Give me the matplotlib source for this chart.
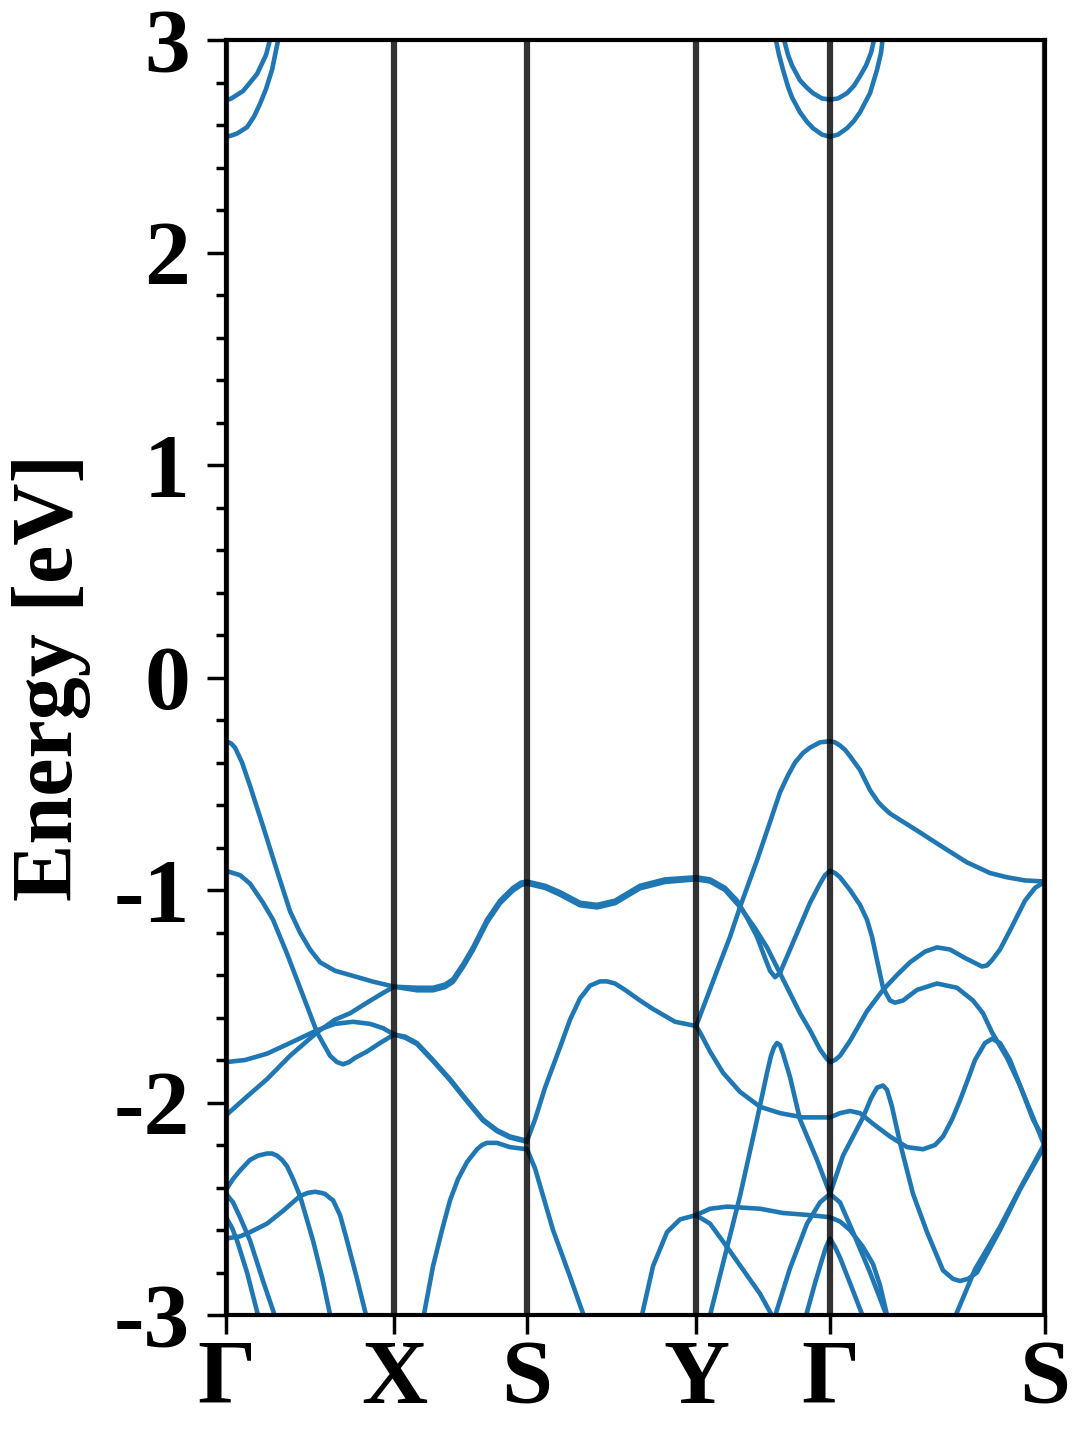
import matplotlib
matplotlib.use("Agg")
import matplotlib.pyplot as plt
from matplotlib.ticker import MultipleLocator

# --- high-symmetry path ---
KPOINT_POS = [0.00, 1.68, 3.01, 4.70, 6.04, 8.19]
KPOINT_LABELS = ["Γ", "X", "S", "Y", "Γ", "S"]

# --- bands: (k, E[eV]) ---
CB1 = [(0.00, 2.72), (0.04, 2.722), (0.07, 2.73), (0.12, 2.745), (0.17, 2.76), (0.24, 2.80),
       (0.31, 2.84), (0.36, 2.89), (0.40, 2.93), (0.45, 3.02)]
CB2 = [(0.00, 2.545), (0.05, 2.55), (0.11, 2.56), (0.16, 2.575), (0.21, 2.59), (0.28, 2.64),
       (0.34, 2.70), (0.40, 2.77), (0.46, 2.86), (0.53, 3.02)]
CB3 = [(5.57, 3.02), (5.62, 2.93), (5.66, 2.88), (5.74, 2.81), (5.81, 2.775), (5.87, 2.75),
       (5.96, 2.725), (6.04, 2.72), (6.12, 2.725), (6.21, 2.75), (6.28, 2.785), (6.34, 2.83),
       (6.40, 2.88), (6.45, 2.94), (6.49, 3.02)]
CB4 = [(5.49, 3.02), (5.53, 2.93), (5.57, 2.86), (5.62, 2.78), (5.66, 2.73), (5.74, 2.66),
       (5.81, 2.615), (5.87, 2.585), (5.96, 2.555), (6.04, 2.545), (6.12, 2.555), (6.21, 2.585),
       (6.28, 2.62), (6.34, 2.66), (6.44, 2.75), (6.51, 2.86), (6.55, 2.94), (6.57, 3.02)]

VB1 = [(0.00, -0.30), (0.05, -0.31), (0.09, -0.33), (0.16, -0.40), (0.24, -0.51), (0.37, -0.70),
       (0.51, -0.91), (0.64, -1.10), (0.74, -1.20), (0.84, -1.28), (0.94, -1.34), (1.09, -1.38),
       (1.24, -1.40), (1.46, -1.43), (1.68, -1.455),
       (1.91, -1.46), (2.07, -1.46), (2.19, -1.445), (2.27, -1.42), (2.37, -1.35), (2.47, -1.27),
       (2.61, -1.14), (2.74, -1.05), (2.87, -0.99), (2.95, -0.965), (3.01, -0.96),
       (3.19, -0.98), (3.34, -1.01), (3.54, -1.06), (3.71, -1.07), (3.89, -1.05), (4.14, -0.98),
       (4.39, -0.95), (4.70, -0.94),
       (4.84, -0.95), (4.99, -0.99), (5.11, -1.05), (5.21, -1.13), (5.31, -1.22), (5.39, -1.32),
       (5.44, -1.38), (5.49, -1.41), (5.54, -1.39), (5.64, -1.28), (5.74, -1.17), (5.84, -1.06),
       (5.94, -0.97), (5.99, -0.93), (6.04, -0.91),
       (6.09, -0.92), (6.14, -0.94), (6.24, -1.00), (6.34, -1.07), (6.41, -1.14), (6.46, -1.22),
       (6.51, -1.33), (6.57, -1.46), (6.64, -1.52), (6.69, -1.53), (6.77, -1.52), (6.91, -1.47),
       (7.11, -1.44), (7.31, -1.46), (7.47, -1.52), (7.57, -1.58), (7.66, -1.67), (7.81, -1.79),
       (7.94, -1.92), (8.07, -2.08), (8.19, -2.18)]

VB2 = [(0.00, -0.91), (0.07, -0.92), (0.14, -0.93), (0.24, -0.97), (0.37, -1.06), (0.47, -1.14),
       (0.61, -1.30), (0.74, -1.46), (0.91, -1.67), (1.04, -1.78), (1.11, -1.81), (1.17, -1.82),
       (1.23, -1.81), (1.29, -1.79), (1.41, -1.76), (1.54, -1.72), (1.68, -1.68),
       (1.79, -1.69), (1.91, -1.72), (2.07, -1.80), (2.24, -1.89), (2.41, -1.99), (2.57, -2.08),
       (2.71, -2.13), (2.84, -2.16), (3.01, -2.18),
       (3.09, -2.08), (3.19, -1.93), (3.34, -1.74), (3.44, -1.61), (3.54, -1.51), (3.64, -1.45),
       (3.74, -1.43), (3.81, -1.43), (3.89, -1.44), (3.99, -1.47), (4.14, -1.52), (4.27, -1.56),
       (4.49, -1.62), (4.70, -1.64),
       (4.74, -1.67), (4.84, -1.76), (4.97, -1.86), (5.14, -1.95), (5.34, -2.02), (5.54, -2.05),
       (5.77, -2.07), (6.04, -2.07),
       (6.14, -2.05), (6.24, -2.04), (6.34, -2.05), (6.47, -2.10), (6.64, -2.16), (6.81, -2.21),
       (6.97, -2.22), (7.09, -2.20), (7.17, -2.16), (7.26, -2.08), (7.34, -1.99), (7.42, -1.89),
       (7.49, -1.80), (7.59, -1.72), (7.66, -1.70), (7.74, -1.72), (7.84, -1.80), (7.94, -1.92),
       (8.07, -2.07), (8.19, -2.21)]

VB3 = [(0.00, -1.81), (0.19, -1.80), (0.41, -1.77), (0.64, -1.72), (0.91, -1.66), (1.09, -1.63),
       (1.27, -1.62), (1.44, -1.63), (1.57, -1.65), (1.68, -1.68),
       (1.79, -1.695), (1.91, -1.725), (2.07, -1.805), (2.24, -1.895), (2.41, -1.995),
       (2.57, -2.085), (2.71, -2.135), (2.84, -2.165), (3.01, -2.185)]

VB4 = [(0.00, -2.06), (0.19, -1.98), (0.41, -1.89), (0.64, -1.78), (0.91, -1.67), (1.09, -1.61),
       (1.24, -1.58), (1.41, -1.53), (1.55, -1.49), (1.68, -1.455),
       (1.91, -1.472), (2.07, -1.472), (2.19, -1.457), (2.27, -1.432), (2.37, -1.362),
       (2.47, -1.282), (2.61, -1.152), (2.74, -1.062), (2.87, -1.002), (2.95, -0.977),
       (3.01, -0.97),
       (3.19, -0.99), (3.34, -1.022), (3.54, -1.072), (3.71, -1.082), (3.89, -1.062),
       (4.14, -0.992), (4.39, -0.962), (4.70, -0.95),
       (4.84, -0.96), (4.99, -1.00), (5.14, -1.08), (5.29, -1.18), (5.41, -1.27), (5.57, -1.42),
       (5.74, -1.58), (5.84, -1.66), (5.94, -1.75), (6.00, -1.79), (6.04, -1.81),
       (6.09, -1.80), (6.14, -1.78), (6.24, -1.71), (6.41, -1.57), (6.57, -1.47), (6.71, -1.40),
       (6.84, -1.34), (6.99, -1.29), (7.11, -1.27), (7.24, -1.28), (7.39, -1.32), (7.56, -1.36),
       (7.61, -1.355), (7.66, -1.33), (7.74, -1.28), (7.84, -1.19), (7.99, -1.05), (8.09, -0.99),
       (8.19, -0.96)]

VB5 = [(4.70, -1.64), (4.79, -1.53), (4.91, -1.38), (5.04, -1.22), (5.14, -1.08), (5.31, -0.86),
       (5.44, -0.68), (5.54, -0.54), (5.62, -0.46), (5.69, -0.40), (5.77, -0.355), (5.84, -0.33),
       (5.94, -0.305), (6.04, -0.30), (6.09, -0.305), (6.14, -0.32), (6.19, -0.34), (6.24, -0.37),
       (6.34, -0.435), (6.44, -0.53), (6.52, -0.585), (6.57, -0.61), (6.64, -0.64), (6.74, -0.67),
       (6.91, -0.72), (7.14, -0.79), (7.41, -0.87), (7.64, -0.92), (7.81, -0.94), (7.99, -0.955),
       (8.19, -0.96)]

L1 = [(0.00, -2.41), (0.07, -2.36), (0.14, -2.32), (0.24, -2.27), (0.32, -2.25), (0.41, -2.24),
      (0.46, -2.24), (0.51, -2.25), (0.56, -2.27), (0.61, -2.30), (0.67, -2.36), (0.74, -2.44),
      (0.87, -2.65), (0.96, -2.82), (1.05, -3.02)]
L2 = [(0.00, -2.43), (0.07, -2.47), (0.14, -2.54), (0.24, -2.65), (0.37, -2.84), (0.50, -3.02)]
L3 = [(0.00, -2.54), (0.06, -2.59), (0.11, -2.65), (0.21, -2.80), (0.33, -3.02)]
L4 = [(0.00, -2.64), (0.14, -2.63), (0.24, -2.61), (0.41, -2.57), (0.57, -2.51), (0.74, -2.44),
      (0.82, -2.425), (0.89, -2.42), (0.95, -2.425), (0.99, -2.43), (1.04, -2.45), (1.07, -2.46),
      (1.14, -2.53), (1.21, -2.65), (1.31, -2.83), (1.41, -3.02)]
L5 = [(1.97, -3.02), (2.07, -2.77), (2.16, -2.60), (2.24, -2.46), (2.32, -2.36), (2.41, -2.28),
      (2.51, -2.22), (2.56, -2.20), (2.61, -2.19), (2.71, -2.19), (2.84, -2.21), (3.01, -2.22),
      (3.09, -2.31), (3.27, -2.60), (3.44, -2.82), (3.59, -3.02)]
L6 = [(4.15, -3.02), (4.27, -2.77), (4.41, -2.61), (4.54, -2.55), (4.70, -2.53), (4.84, -2.50),
      (5.01, -2.49), (5.34, -2.50), (5.57, -2.52), (5.84, -2.53), (6.04, -2.54), (6.14, -2.56),
      (6.24, -2.60), (6.37, -2.68), (6.47, -2.76), (6.54, -2.86), (6.62, -3.02)]
L7 = [(4.70, -2.53), (4.84, -2.57), (5.01, -2.68), (5.19, -2.80), (5.34, -2.90), (5.48, -3.02),
      (5.64, -2.78), (5.81, -2.57), (5.94, -2.47), (6.04, -2.43), (6.14, -2.47), (6.27, -2.61),
      (6.44, -2.80), (6.62, -3.02)]
L8 = [(4.83, -3.02), (4.99, -2.72), (5.14, -2.44), (5.31, -2.08), (5.41, -1.86), (5.45, -1.78),
      (5.48, -1.74), (5.51, -1.72), (5.54, -1.73), (5.57, -1.77), (5.64, -1.88), (5.74, -2.08),
      (5.91, -2.27), (6.04, -2.43), (6.17, -2.25), (6.37, -2.07), (6.45, -1.98), (6.51, -1.93),
      (6.57, -1.92), (6.61, -1.94), (6.66, -2.02), (6.74, -2.19), (6.87, -2.43), (7.01, -2.61),
      (7.17, -2.79), (7.27, -2.83), (7.34, -2.84), (7.42, -2.83), (7.51, -2.80), (7.74, -2.60),
      (7.94, -2.41), (8.19, -2.20)]
L9 = [(5.79, -3.02), (5.89, -2.85), (5.96, -2.74), (6.00, -2.68), (6.04, -2.64), (6.09, -2.68),
      (6.14, -2.73), (6.24, -2.85), (6.38, -3.02)]
L10 = [(7.28, -3.02), (7.37, -2.92), (7.49, -2.785), (7.74, -2.585), (7.94, -2.405), (8.19, -2.19)]

BANDS = [CB1, CB2, CB3, CB4, VB1, VB2, VB3, VB4, VB5,
         L1, L2, L3, L4, L5, L6, L7, L8, L9, L10]

FONT = ["Liberation Serif", "DejaVu Serif"]


def main():
    plt.rcParams['font.family'] = FONT
    plt.rcParams['font.weight'] = 'bold'
    plt.rcParams['axes.unicode_minus'] = False

    fig = plt.figure(figsize=(10.8, 14.4), dpi=100)
    ax = fig.add_axes([0.2093, 0.0868, 0.7583, 0.8854])

    for band in BANDS:
        k = [p[0] for p in band]
        e = [p[1] for p in band]
        ax.plot(k, e, color='#1f77b4', lw=3.3, solid_joinstyle='round',
                solid_capstyle='round')

    # high-symmetry verticals drawn on top of bands
    for kp in KPOINT_POS:
        ax.axvline(kp, color='black', alpha=0.8, lw=4.5, zorder=5)

    ax.set_xlim(KPOINT_POS[0], KPOINT_POS[-1])
    ax.set_ylim(-3, 3)
    ax.set_xticks(KPOINT_POS)
    ax.set_xticklabels(KPOINT_LABELS)
    ax.yaxis.set_major_locator(MultipleLocator(1))
    ax.yaxis.set_minor_locator(MultipleLocator(0.2))

    ax.tick_params(axis='both', which='major', direction='out', length=14, width=2.5,
                   labelsize=66)
    ax.tick_params(axis='y', which='minor', direction='out', length=7, width=2.5)
    ax.tick_params(axis='y', which='major', pad=12)
    ax.tick_params(axis='x', which='major', pad=4)
    for lab in ax.get_xticklabels() + ax.get_yticklabels():
        lab.set_fontweight('bold')

    for sp in ax.spines.values():
        sp.set_linewidth(3)
        sp.set_zorder(6)

    ax.set_ylabel("Energy [eV]", fontsize=62, fontweight='bold')
    ax.yaxis.set_label_coords(-0.165, 0.5)

    fig.savefig("out.png", dpi=100)
    plt.close(fig)


if __name__ == "__main__":
    main()
